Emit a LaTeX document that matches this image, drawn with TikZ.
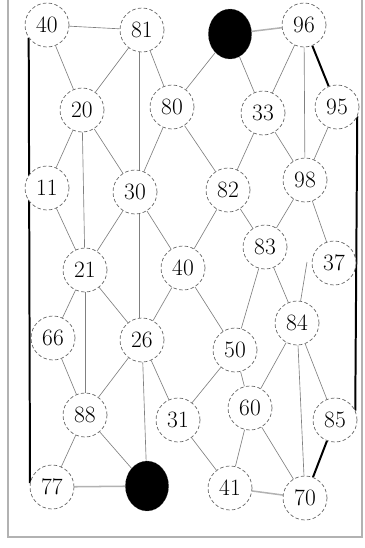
\documentclass[tikz,border=0pt]{standalone}
\usepackage{tikz}
\usetikzlibrary{shapes.geometric, backgrounds}

\begin{document}
\begin{tikzpicture}[
  x=0.03cm, y=-0.03cm,
  every node/.style={font=\fontsize{20}{20}\selectfont},
  num/.style={circle, draw=black!60, densely dashed, line width=0.6pt, fill=white, minimum size=1.32cm, inner sep=0pt},
  hole/.style={ellipse, draw=black!60, densely dotted, fill=black, minimum width=1.3cm, minimum height=1.5cm},
  link/.style={black!50, line width=0.55pt},
  bar/.style={gray!60, line width=1.3pt},
  heavy/.style={black, line width=1.7pt},
]

\useasboundingbox (0,0) rectangle (365,548);
\draw[gray!60, line width=1.2pt] (8,-5) -- (8,537) -- (362,537) -- (362,-5);

% Row 1
\node[num] (n40a) at (47,25) {40};
\node[num] (n81) at (142,30) {81};
\node[hole] (top) at (230,34) {};
\node[num] (n96) at (304,25) {96};

% Row 2
\node[num] (n20) at (82,110) {20};
\node[num] (n80) at (172,107) {80};
\node[num] (n33) at (263,113) {33};
\node[num] (n95) at (337,107) {95};

% Row 3
\node[num] (n11) at (47,188) {11};
\node[num] (n30) at (135,192) {30};
\node[num] (n82) at (228,190) {82};
\node[num] (n98) at (305,180) {98};

% Row 4
\node[num] (n21) at (85,270) {21};
\node[num] (n40b) at (183,268) {40};
\node[num] (n83) at (265,247) {83};
\node[num] (n37) at (334,263) {37};

% Row 5
\node[num] (n66) at (53,338) {66};
\node[num] (n26) at (142,340) {26};
\node[num] (n50) at (235,350) {50};
\node[num] (n84) at (297,323) {84};

% Row 6
\node[num] (n88) at (85,415) {88};
\node[num] (n31) at (178,420) {31};
\node[num] (n60) at (250,408) {60};
\node[num] (n85) at (335,420) {85};

% Row 7
\node[num] (n77) at (52,487) {77};
\node[hole] (bot) at (147,486) {};
\node[num] (n41) at (230,488) {41};
\node[num] (n70) at (305,498) {70};

\coordinate (stub) at (307,262);

\begin{scope}[on background layer]
% Thin links
\draw[link] (n40a) -- (n81);
\draw[link] (n40a) -- (n20);
\draw[link] (n81) -- (n20);
\draw[link] (n81) -- (n80);
\draw[link] (n81.262) -- (n81.262 |- n30.north);
\draw[link] (top) -- (n80);
\draw[link] (top) -- (n33);
\draw[link] (n96) -- (n33);
\draw[link] (n96) -- (n98);
\draw[link] (n20) -- (n11);
\draw[link] (n20) -- (n21);
\draw[link] (n20) -- (n30);
\draw[link] (n80) -- (n30);
\draw[link] (n80) -- (n82);
\draw[link] (n33) -- (n82);
\draw[link] (n33) -- (n98);
\draw[link] (n95) -- (n98);
\draw[link] (n11) -- (n21);
\draw[link] (n30) -- (n21);
\draw[link] (n30) -- (n40b);
\draw[link] (n30.280) -- (n30.280 |- n26.north);
\draw[link] (n82) -- (n40b);
\draw[link] (n82) -- (n83);
\draw[link] (n98) -- (n83);
\draw[link] (n98) -- (n37);
\draw[link] (n21) -- (n66);
\draw[link] (n21) -- (n26);
\draw[link] (n21) -- (n88);
\draw[link] (n40b) -- (n26);
\draw[link] (n40b) -- (n50);
\draw[link] (n83) -- (n50);
\draw[link] (n83) -- (n84);
\draw[link] (n84) -- (stub);
\draw[link] (n66) -- (n88);
\draw[link] (n26) -- (n88);
\draw[link] (n26) -- (n31);
\draw[link] (n26) -- (bot);
\draw[link] (n50) -- (n31);
\draw[link] (n50) -- (n60);
\draw[link] (n84) -- (n60);
\draw[link] (n84) -- (n70);
\draw[link] (n84) -- (n85);
\draw[link] (n88) -- (n77);
\draw[link] (n88) -- (bot);
\draw[link] (n31) -- (n41);
\draw[link] (n60) -- (n41);
\draw[link] (n60) -- (n70);

% Horizontal bars
\draw[bar] (top) -- (n96);
\draw[bar] (bot) -- (n77);
\draw[bar] (n41) -- (n70);

% Heavy border links
\draw[heavy] (n40a.215) -- (n77.170);
\draw[heavy] (n96) -- (n95);
\draw[heavy] (n95.-25) -- (n85.25);
\draw[heavy] (n85) -- (n70);
\end{scope}

\end{tikzpicture}
\end{document}
